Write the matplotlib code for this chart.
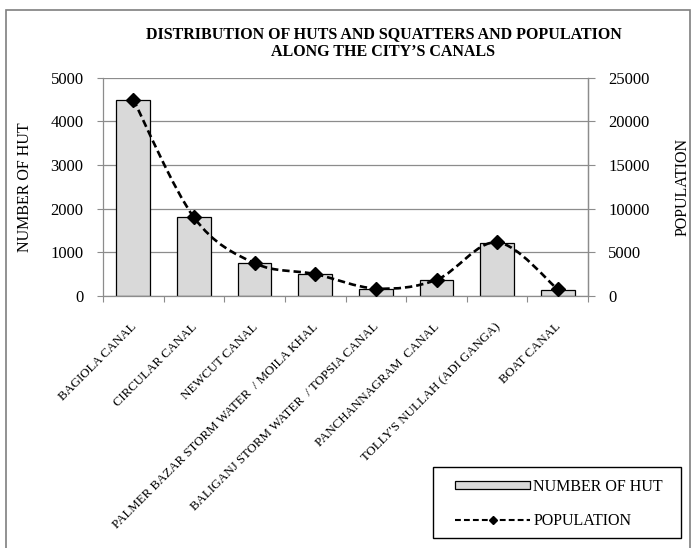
import matplotlib
matplotlib.use('Agg')
import matplotlib.pyplot as plt
import matplotlib.transforms as mtransforms
from matplotlib.path import Path
from matplotlib.patches import PathPatch, Rectangle
from matplotlib.lines import Line2D
import numpy as np

# ── Data ──────────────────────────────────────────────────────────────────────
canals = [
    'BAGIOLA CANAL',
    'CIRCULAR CANAL',
    'NEWCUT CANAL',
    'PALMER BAZAR STORM WATER  / MOILA KHAL',
    'BALIGANJ STORM WATER  / TOPSIA CANAL',
    'PANCHANNAGRAM  CANAL',
    "TOLLY'S NULLAH (ADI GANGA)",
    'BOAT CANAL',
]
huts       = [4500, 1800, 750, 500, 170, 370, 1220, 140]
population = [22500, 9000, 3750, 2500, 850, 1850, 6150, 750]

hut_ticks = [0, 1000, 2000, 3000, 4000, 5000]
pop_ticks = [0, 5000, 10000, 15000, 20000, 25000]

# ── Style ─────────────────────────────────────────────────────────────────────
FONT      = 'Liberation Serif'
BAR_COLOR = '#D9D9D9'
GRID      = '#8C8C8C'
DASH      = (0, (2.8, 1.5))
plt.rcParams['font.family'] = FONT


def smooth_path(xs, ys):
    """Catmull-Rom style cubic Bezier through the points (like Excel's smoothed line)."""
    pts = np.column_stack([xs, ys]).astype(float)
    n = len(pts)
    verts = [pts[0]]
    codes = [Path.MOVETO]
    for i in range(n - 1):
        p0 = pts[i - 1] if i > 0 else pts[i]
        p1 = pts[i]
        p2 = pts[i + 1]
        p3 = pts[i + 2] if i + 2 < n else pts[i + 1]
        c1 = p1 + (p2 - p0) / 6.0
        c2 = p2 - (p3 - p1) / 6.0
        verts += [c1, c2, p2]
        codes += [Path.CURVE4] * 3
    return Path(verts, codes)


fig = plt.figure(figsize=(6.96, 5.48), dpi=100)
fig.patch.set_facecolor('white')

# outer chart border
fig.patches.append(Rectangle((0.009, -0.01), 0.982, 0.992, transform=fig.transFigure,
                             fill=False, edgecolor='#7F7F7F', linewidth=1.2))

ax = fig.add_axes([0.148, 0.460, 0.697, 0.398])
x = np.arange(len(canals))

ax.bar(x, huts, width=0.556, color=BAR_COLOR, edgecolor='black', linewidth=0.9, zorder=2)
ax.set_xlim(-0.5, len(canals) - 0.5)
ax.set_ylim(0, 5000)
ax.set_yticks(hut_ticks)
ax.yaxis.grid(True, color=GRID, linewidth=0.9)
ax.set_axisbelow(True)

# category boundary ticks + rotated labels at category centres
ax.set_xticks(np.arange(len(canals) + 1) - 0.5)
ax.set_xticklabels([])
ax.set_xticks(x, minor=True)
ax.set_xticklabels(canals, minor=True, rotation=45, ha='right',
                   rotation_mode='anchor', fontsize=9.3)
ax.tick_params(axis='x', which='minor', length=0, pad=0)
ax.tick_params(axis='x', which='major', length=4, color=GRID, direction='out')
ax.tick_params(axis='y', length=4, color=GRID, labelsize=12, pad=10)
shift = mtransforms.ScaledTranslation(-0.03, -0.25, fig.dpi_scale_trans)
for lbl in ax.get_xticklabels(minor=True):
    lbl.set_transform(lbl.get_transform() + shift)

ax.spines['top'].set_visible(False)
for side in ['left', 'right', 'bottom']:
    ax.spines[side].set_color(GRID)
    ax.spines[side].set_linewidth(0.9)

ax.set_ylabel('NUMBER OF HUT', fontsize=11.5)
ax.yaxis.set_label_coords(-0.144, 0.5)

# ── Secondary axis: population ────────────────────────────────────────────────
ax2 = ax.twinx()
ax2.set_ylim(0, 25000)
ax2.set_yticks(pop_ticks)
ax2.tick_params(axis='y', length=5, color=GRID, labelsize=12, pad=9.5)
for side in ['top', 'left', 'bottom']:
    ax2.spines[side].set_visible(False)
ax2.spines['right'].set_color(GRID)
ax2.spines['right'].set_linewidth(0.9)

curve = PathPatch(smooth_path(x, population), fill=False, edgecolor='black',
                  linewidth=1.9, linestyle=DASH, zorder=3)
ax2.add_patch(curve)
ax2.plot(x, population, linestyle='none', marker='D', markersize=7,
         color='black', zorder=4)
ax2.set_ylabel('POPULATION', fontsize=11.5)
ax2.yaxis.set_label_coords(1.179, 0.5)

# ── Title ─────────────────────────────────────────────────────────────────────
fig.text(0.551, 0.9215, 'DISTRIBUTION OF HUTS AND SQUATTERS AND POPULATION\nALONG THE CITY\u2019S CANALS',
         ha='center', va='center', fontsize=11.5, fontweight='bold', linespacing=1.15)

# ── Legend ────────────────────────────────────────────────────────────────────
fig.patches.append(Rectangle((433 / 696, 1 - 538 / 548), 248 / 696, 71 / 548,
                             transform=fig.transFigure, fill=False,
                             edgecolor='black', linewidth=1.0))
handles = [
    Rectangle((0, 0), 1, 1, facecolor=BAR_COLOR, edgecolor='black', linewidth=0.9),
    Line2D([], [], color='black', linewidth=1.5, linestyle=DASH,
           marker='D', markersize=4),
]
fig.legend(handles, ['NUMBER OF HUT', 'POPULATION'],
           loc='center left', bbox_to_anchor=(455 / 696, 1 - 504 / 548),
           fontsize=11.5, frameon=False,
           handlelength=4.7, handleheight=0.4, handletextpad=0.2,
           labelspacing=1.15, borderaxespad=0, borderpad=0)

fig.savefig('out.png', dpi=100, facecolor='white')
